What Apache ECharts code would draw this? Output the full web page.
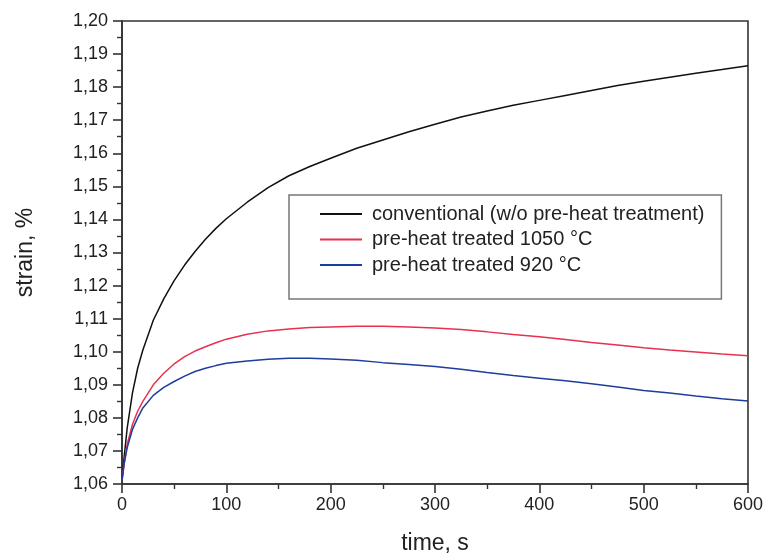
<!DOCTYPE html>
<html>
<head>
<meta charset="utf-8">
<script src="https://cdn.jsdelivr.net/npm/echarts@6/dist/echarts.min.js"></script>
<style>html,body{margin:0;padding:0;background:#fff}#c{width:766px;height:560px}</style>
</head>
<body>
<div id="c"></div>
<script>
const timeS = [0,2,5,10,15,20,30,40,50,60,70,80,90,100,120,140,160,180,200,225,250,275,300,325,350,375,400,425,450,475,500,525,550,575,600];
const conventional = [1.061,1.068,1.077,1.0875,1.0950,1.1005,1.1095,1.1160,1.1215,1.1262,1.1303,1.1340,1.1373,1.1402,1.1452,1.1496,1.1532,1.1560,1.1585,1.1615,1.1640,1.1665,1.1688,1.1710,1.1728,1.1745,1.1760,1.1775,1.1790,1.1805,1.1818,1.1830,1.1842,1.1853,1.1865];
const treated1050 = [1.061,1.066,1.072,1.078,1.082,1.0850,1.0900,1.0935,1.0963,1.0985,1.1002,1.1015,1.1027,1.1038,1.1053,1.1063,1.1069,1.1073,1.1075,1.1077,1.1077,1.1075,1.1072,1.1067,1.1060,1.1052,1.1045,1.1037,1.1028,1.1020,1.1012,1.1005,1.0999,1.0993,1.0988];
const treated920 = [1.061,1.066,1.071,1.0765,1.080,1.0830,1.0868,1.0892,1.0910,1.0926,1.0940,1.0950,1.0958,1.0965,1.0972,1.0977,1.0980,1.0980,1.0978,1.0974,1.0967,1.0961,1.0955,1.0947,1.0937,1.0928,1.0920,1.0912,1.0903,1.0893,1.0883,1.0875,1.0866,1.0858,1.0851];
const seriesNames = ['conventional (w/o pre-heat treatment)','pre-heat treated 1050 °C','pre-heat treated 920 °C'];
const seriesColors = ['#111111','#e8304f','#1f3d9c'];

const pair = (ys) => timeS.map((t,i)=>[t, ys[i]]);
const font = 'Liberation Sans, Arial, sans-serif';
const chart = echarts.init(document.getElementById('c'));
const axisLine = {show:true, lineStyle:{color:'#333', width:1.6}};
chart.setOption({
  animation:false,
  backgroundColor:'#fff',
  grid:{left:122, right:17, top:21, bottom:75, show:true, borderColor:'#333', borderWidth:1.6},
  legend:{
    orient:'vertical', left:289, top:195,
    data:seriesNames.map((n,i)=>({name:n, icon:'rect', itemStyle:{color:seriesColors[i]}})),
    backgroundColor:'#fff',
    borderColor:'#777', borderWidth:1.5,
    padding:[9,17,24,31],
    itemWidth:42, itemHeight:2, itemGap:5.5,
    textStyle:{fontFamily:font, fontSize:20, lineHeight:18, color:'#222', padding:[0,0,0,5]}
  },
  xAxis:{
    type:'value', min:0, max:600, interval:100,
    name:'time, s', nameLocation:'middle', nameGap:48,
    nameTextStyle:{fontFamily:font, fontSize:23, color:'#222'},
    axisLine:axisLine,
    axisTick:{show:true, length:9, lineStyle:{color:'#333', width:1.6}},
    minorTick:{show:true, splitNumber:2, length:5, lineStyle:{color:'#333', width:1.4}},
    axisLabel:{fontFamily:font, fontSize:18, color:'#222', margin:12},
    splitLine:{show:false}
  },
  yAxis:{
    type:'value', min:1.06, max:1.20, interval:0.01,
    name:'strain, %', nameLocation:'middle', nameGap:85, nameRotate:90,
    nameTextStyle:{fontFamily:font, fontSize:23, color:'#222'},
    axisLine:axisLine,
    axisTick:{show:true, length:9, lineStyle:{color:'#333', width:1.6}},
    minorTick:{show:true, splitNumber:2, length:5, lineStyle:{color:'#333', width:1.4}},
    axisLabel:{fontFamily:font, fontSize:18, color:'#222', margin:14,
      formatter:(v)=>v.toFixed(2).replace('.', ',')},
    splitLine:{show:false}
  },
  series:[conventional, treated1050, treated920].map((ys,i)=>({
    name:seriesNames[i], type:'line', data:pair(ys), symbol:'none', showSymbol:false,
    lineStyle:{color:seriesColors[i], width:1.5}, itemStyle:{color:seriesColors[i]}, z:3
  }))
});
</script>
</body>
</html>
